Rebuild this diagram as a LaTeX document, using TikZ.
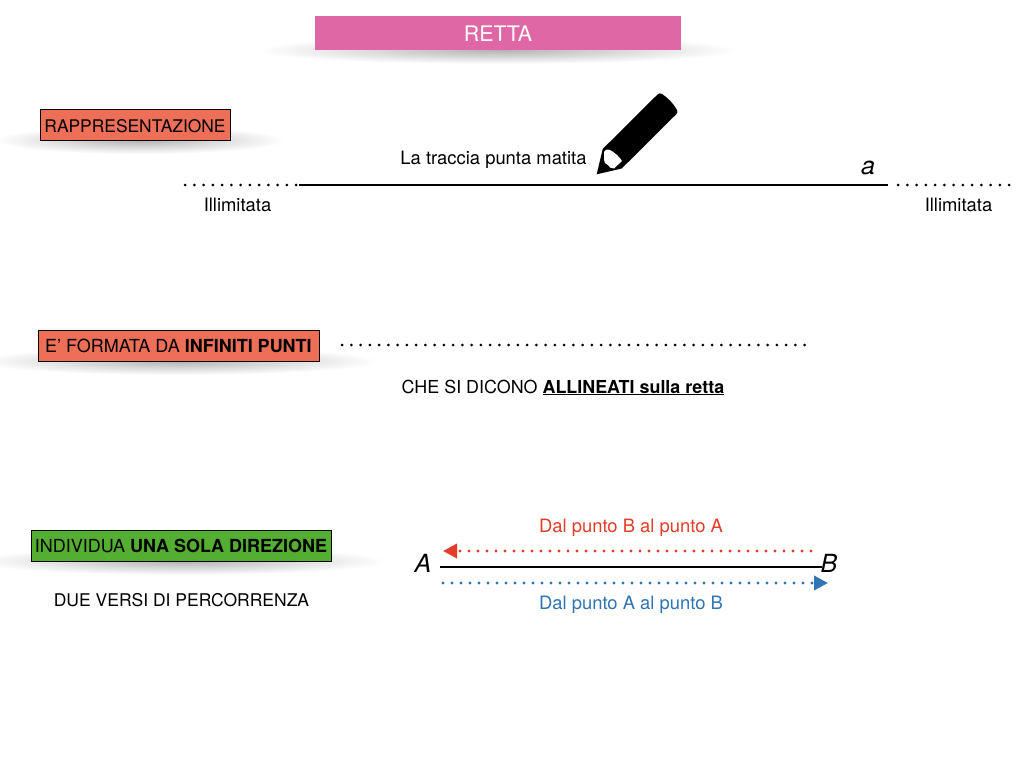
\documentclass[tikz,border=0pt]{standalone}
\usepackage{fontspec}
\setmainfont{TeX Gyre Heros}
\usetikzlibrary{arrows.meta}
\definecolor{pinkbar}{HTML}{DF67A5}
\definecolor{redbox}{HTML}{EE6F57}
\definecolor{greenbox}{HTML}{53AE32}
\definecolor{redline}{HTML}{E23D28}
\definecolor{blueline}{HTML}{2F74B5}
\newcommand{\fsz}[1]{\fontsize{#1}{20}\selectfont}
\tikzset{
  x=1pt,y=-1pt,
  txt/.style={inner sep=0pt,font=\fsz{18.4},text=black},
  caps/.style={inner sep=0pt,font=\fsz{17.5},text=black},
  bigit/.style={inner sep=0pt,font=\fsz{25}\itshape,text=black},
  colbox/.style={draw=black,line width=0.7pt,inner sep=0pt,minimum height=31pt,text=black,text height=14.5pt,text depth=0pt},
  softshadow/.style={inner color=black!30,outer color=white},
  dots/.style={line width=3pt,line cap=round,dash pattern=on 0pt off 9.25pt},
  solidline/.style={line width=2pt,black},
  tipped/.style={line width=3.4pt,line cap=round,dash pattern=on 0pt off 9pt,-{Triangle[length=14pt,width=14pt]}}
}
\begin{document}
\begin{tikzpicture}
\path[use as bounding box,fill=white] (0,0) rectangle (1024,768);
% soft shadows
\shade[softshadow] (498,50) ellipse [x radius=240,y radius=14];
\shade[softshadow] (140,140) ellipse [x radius=145,y radius=14];
\shade[softshadow] (178,361) ellipse [x radius=200,y radius=14];
\shade[softshadow] (181,561) ellipse [x radius=205,y radius=14];
% title
\node[fill=pinkbar,inner sep=0pt,minimum width=366pt,minimum height=34pt,text=white,font=\fsz{21.4},text height=17.4pt,text depth=0pt] (title) at (498,33) {RETTA};
% row 1
\node[colbox,fill=redbox,minimum width=190pt,font=\fsz{17.4}] (rapp) at (135,125) {RAPPRESENTAZIONE};
\node[txt] (traccia) at (493.5,159.5) {La traccia punta matita};
\coordinate (l1a) at (185,185);
\coordinate (l1b) at (297,185);
\coordinate (l1c) at (299,185);
\coordinate (l1d) at (888,185);
\coordinate (l1e) at (898,185);
\coordinate (l1f) at (1010,185);
\draw[dots] (l1a) -- (l1b);
\draw[solidline] (l1c) -- (l1d);
\draw[dots] (l1e) -- (l1f);
\node[txt] (ill1) at (237.5,205) {Illimitata};
\node[txt] (ill2) at (958.5,205) {Illimitata};
\node[bigit] (a) at (868,168) {a};
% pencil
\fill[black] (596.7,174.3) -- (602.7,149) -- (657,95)
  .. controls (659,93) and (660,93) .. (662,94)
  .. controls (668,98) and (673,103) .. (677,110)
  .. controls (678,112) and (677.5,113) .. (676,114.5)
  -- (621.7,168.5) -- cycle;
\fill[white] (604,152) .. controls (606,149) and (608,149) .. (610,150)
  .. controls (614,152) and (620,157) .. (622,161)
  -- (614,168.5) .. controls (611,169) and (609,167) .. (608,165)
  .. controls (606,164) and (604,163) .. (604,160) -- cycle;
% row 2
\node[colbox,fill=redbox,minimum width=281pt,font=\fsz{18}] (punti) at (178.5,345.5) {E’ FORMATA DA \textbf{INFINITI PUNTI}};
\coordinate (l2a) at (342,345);
\coordinate (l2b) at (807,345);
\draw[dots] (l2a) -- (l2b);
\node[caps,font=\fsz{17.9}] (alli) at (563,387.5) {CHE SI DICONO \underline{\textbf{ALLINEATI sulla retta}}};
% row 3
\node[colbox,fill=greenbox,minimum width=300pt,font=\fsz{18}] (dir) at (181,545.5) {INDIVIDUA \textbf{UNA SOLA DIREZIONE}};
\node[caps] (versi) at (181.5,600) {DUE VERSI DI PERCORRENZA};
\node[txt,text=redline] (ba) at (631,528) {Dal punto B al punto A};
\node[txt,text=blueline] (ab) at (631,605) {Dal punto A al punto B};
\node[bigit] (A) at (423,563.5) {A};
\node[bigit] (B) at (829,563.5) {B};
\coordinate (l3a) at (440,567);
\coordinate (l3b) at (822,567);
\draw[solidline] (l3a) -- (l3b);
\coordinate (ra) at (811,551);
\coordinate (rb) at (443,551);
\draw[tipped,redline] (ra) -- (rb);
\coordinate (ba1) at (443,583);
\coordinate (ba2) at (828,583);
\draw[tipped,blueline] (ba1) -- (ba2);
\end{tikzpicture}
\end{document}
